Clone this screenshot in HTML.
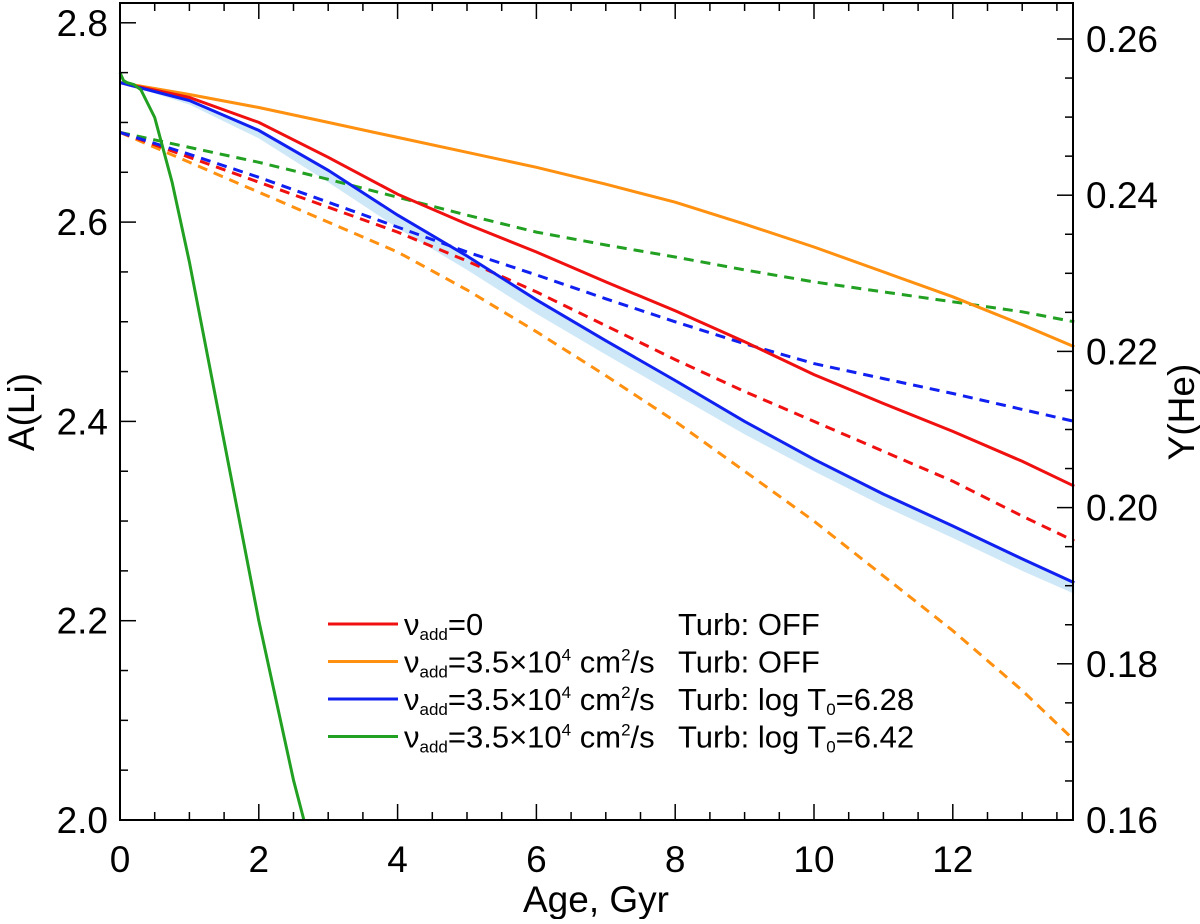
<!DOCTYPE html>
<html><head><meta charset="utf-8"><style>
body{margin:0;background:#fff}
svg text{font-family:"Liberation Sans",sans-serif;fill:#000}
</style></head><body>
<svg id="chart" width="1200" height="919" viewBox="0 0 1200 919" xmlns="http://www.w3.org/2000/svg">
<g id="marks"></g>
<g id="axes"></g>
</svg>
<script>
const xTicks=[0,2,4,6,8,10,12];
const yTicks=[2.0,2.2,2.4,2.6,2.8];
const y2Ticks=[0.16,0.18,0.20,0.22,0.24,0.26];
const ages=[0,1,2,3,4,5,6,7,8,9,10,11,12,13,13.75];
const redSolid=[2.74,2.725,2.70,2.665,2.628,2.598,2.570,2.540,2.511,2.480,2.447,2.418,2.39,2.36,2.335];
const orangeSolid=[2.74,2.728,2.715,2.700,2.685,2.670,2.655,2.638,2.620,2.598,2.575,2.550,2.525,2.497,2.475];
const blueSolid=[2.74,2.722,2.692,2.652,2.607,2.566,2.522,2.481,2.441,2.400,2.362,2.327,2.295,2.262,2.238];
const blueBandLow=[2.74,2.718,2.684,2.640,2.594,2.552,2.508,2.467,2.427,2.387,2.350,2.315,2.283,2.250,2.227];
const greenDash=[2.69,2.675,2.66,2.643,2.625,2.607,2.590,2.577,2.565,2.552,2.540,2.530,2.520,2.510,2.50];
const blueDash=[2.69,2.668,2.645,2.620,2.595,2.570,2.547,2.523,2.500,2.478,2.458,2.443,2.428,2.412,2.40];
const redDash=[2.69,2.665,2.640,2.615,2.590,2.561,2.530,2.496,2.462,2.430,2.400,2.370,2.340,2.305,2.28];
const orangeDash=[2.69,2.660,2.630,2.600,2.570,2.532,2.490,2.446,2.400,2.350,2.300,2.245,2.190,2.130,2.08];
const greenAges=[0,0.05,0.1,0.2,0.3,0.5,0.75,1,1.5,2,2.5,2.65];
const greenSolid=[2.75,2.742,2.74,2.738,2.733,2.705,2.64,2.56,2.38,2.20,2.04,2.0];

const L=120,R=1073,T=3,B=820;
const xs=v=>L+v*69.4;
const ys=v=>820-(v-2.0)*996.5;
const y2s=v=>820-(v-0.16)*7810;
const NS='http://www.w3.org/2000/svg';
function mk(tag,attrs,parent){const e=document.createElementNS(NS,tag);for(const k in attrs)e.setAttribute(k,attrs[k]);parent.appendChild(e);return e;}
const marks=document.getElementById('marks'),axes=document.getElementById('axes');
function pts(xa,ya){return xa.map((x,i)=>xs(x).toFixed(1)+','+ys(ya[i]).toFixed(1)).join(' ');}
const bandPts=ages.map((x,i)=>xs(x)+','+ys(blueSolid[i])).join(' ')+' '+ages.slice().reverse().map((x,i)=>xs(x)+','+ys(blueBandLow[ages.length-1-i])).join(' ');
const band=mk('polygon',{points:bandPts,fill:'#cfe8f8',stroke:'none'},marks);


const series=[
 [ages,greenDash,'#22a022',true,'green-dashed-line'],
 [ages,orangeDash,'#ff9010',true,'orange-dashed-line'],
 [ages,redDash,'#f01010',true,'red-dashed-line'],
 [ages,blueDash,'#1020f0',true,'blue-dashed-line'],
 [ages,orangeSolid,'#ff9010',false,'orange-solid-line'],
 [ages,redSolid,'#f01010',false,'red-solid-line'],
 [ages,blueSolid,'#1020f0',false,'blue-solid-line'],
 [greenAges,greenSolid,'#22a022',false,'green-solid-line']];
series.forEach(s=>{const p=mk('polyline',{points:pts(s[0],s[1]),fill:'none',stroke:s[2],'stroke-width':3,'stroke-dasharray':s[3]?'10 7':'none'},marks);
 
 });
const fr=mk('rect',{x:L,y:T,width:R-L,height:B-T,fill:'none',stroke:'#000','stroke-width':2},axes);


for(let v=0;v<=13.75;v+=0.5){const x=xs(v),maj=Math.abs(v/2-Math.round(v/2))<1e-6,len=maj?16:8;
 mk('line',{x1:x,y1:B,x2:x,y2:B-len,stroke:'#000','stroke-width':1.5},axes);
 mk('line',{x1:x,y1:T,x2:x,y2:T+len,stroke:'#000','stroke-width':1.5},axes);}
xTicks.forEach(v=>{const t=mk('text',{x:xs(v),y:872,'font-size':37,'text-anchor':'middle'},axes);t.textContent=v;
 
 });
for(let v=2.0;v<=2.82;v+=0.05){const y=ys(v),maj=Math.abs(v*5-Math.round(v*5))<1e-6;
 mk('line',{x1:L,y1:y,x2:L+(maj?16:8),y2:y,stroke:'#000','stroke-width':1.5},axes);}
yTicks.forEach(v=>{const t=mk('text',{x:108,y:ys(v)+13,'font-size':37,'text-anchor':'end'},axes);t.textContent=v.toFixed(1);
 
 });
for(let v=0.16;v<=0.2645;v+=0.005){const y=y2s(v),maj=Math.abs(v*50-Math.round(v*50))<1e-6;
 mk('line',{x1:R,y1:y,x2:R-(maj?16:8),y2:y,stroke:'#000','stroke-width':1.5},axes);}
y2Ticks.forEach(v=>{const t=mk('text',{x:1086,y:y2s(v)+13,'font-size':37,'text-anchor':'start'},axes);t.textContent=v.toFixed(2);
 
 });

const svg=document.getElementById('chart');
function addText(html){svg.insertAdjacentHTML('beforeend',html);}
addText('<text x="596" y="912" font-size="37" text-anchor="middle">Age, Gyr</text>');
addText('<text transform="translate(34,412) rotate(-90)" font-size="37" text-anchor="middle">A(Li)</text>');
addText('<text transform="translate(1194,412) rotate(-90)" font-size="37" text-anchor="middle">Y(He)</text>');
const sup='<tspan dy="-5">=3.5×10</tspan><tspan font-size="17" dy="-12">4</tspan><tspan dy="12"> cm</tspan><tspan font-size="17" dy="-12">2</tspan><tspan dy="12">/s</tspan>';
const rows=[['#f01010','ν<tspan font-size="17" dy="5">add</tspan><tspan dy="-5">=0</tspan>','Turb: OFF'],
['#ff9010','ν<tspan font-size="17" dy="5">add</tspan>'+sup,'Turb: OFF'],
['#1020f0','ν<tspan font-size="17" dy="5">add</tspan>'+sup,'Turb: log T<tspan font-size="17" dy="5">0</tspan><tspan dy="-5">=6.28</tspan>'],
['#22a022','ν<tspan font-size="17" dy="5">add</tspan>'+sup,'Turb: log T<tspan font-size="17" dy="5">0</tspan><tspan dy="-5">=6.42</tspan>']];
rows.forEach((r,i)=>{const y=624+i*37.5;
 addText('<g><line x1="328" y1="'+y+'" x2="398" y2="'+y+'" stroke="'+r[0]+'" stroke-width="3"/><text x="404" y="'+(y+11)+'" font-size="31">'+r[1]+'</text><text x="678" y="'+(y+11)+'" font-size="31">'+r[2]+'</text></g>');});
</script>
</body></html>
